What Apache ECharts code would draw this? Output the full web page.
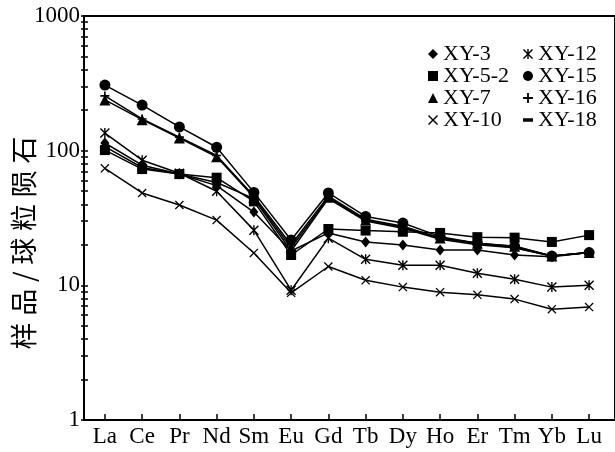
<!DOCTYPE html>
<html>
<head>
<meta charset="utf-8">
<script src="https://cdn.jsdelivr.net/npm/echarts@6/dist/echarts.min.js"></script>
<style>
  html, body { margin: 0; padding: 0; background: #fff; }
  #chart { width: 615px; height: 452px; }
</style>
</head>
<body>
<div id="chart"></div>
<script>
// 稀土元素
var elements = ['La', 'Ce', 'Pr', 'Nd', 'Sm', 'Eu', 'Gd', 'Tb', 'Dy', 'Ho', 'Er', 'Tm', 'Yb', 'Lu'];

// 样品/球粒陨石 标准化值
var xy3  = [114, 78, 67, 55, 35, 18, 24.5, 21, 19.9, 18.3, 18.3, 16.8, 16.3, 17.5];
var xy52 = [101, 73, 67, 63, 42, 16.8, 26.2, 25.5, 25, 24.5, 22.8, 22.6, 21, 23.6];
var xy7  = [238, 170, 124, 90, 45, 19, 45, 30.5, 27, 22.5, 20.5, 19.5, 16.5, 17.5];
var xy10 = [74, 48.5, 39.5, 30.5, 17.4, 8.8, 13.8, 10.9, 9.7, 8.9, 8.5, 7.9, 6.65, 6.9];
var xy12 = [135, 85, 68, 50, 25.7, 9.2, 22.4, 15.6, 14.1, 14.1, 12.3, 11.1, 9.7, 10.0];
var xy15 = [307, 218, 150, 106, 49, 21.7, 48.5, 32.5, 29, 23, 20.5, 19.5, 16.5, 17.5];
var xy16 = [255, 172, 126, 92, 46, 20, 46, 31, 27.5, 22.5, 20.5, 19, 16.5, 17.5];
var xy18 = [107, 75, 67, 58, 44, 18, 44, 30, 26.5, 22, 20, 19, 16.5, 17.5];

var sampleNames = ['XY-3', 'XY-5-2', 'XY-7', 'XY-10', 'XY-12', 'XY-15', 'XY-16', 'XY-18'];
var sampleValues = [xy3, xy52, xy7, xy10, xy12, xy15, xy16, xy18];

// y轴刻度 (主刻度 + 次刻度)
var yTicks = [1, 2, 3, 4, 5, 6, 7, 8, 9, 10, 20, 30, 40, 50, 60, 70, 80, 90,
  100, 200, 300, 400, 500, 600, 700, 800, 900, 1000];

// 符号
var pathX = 'path://M0,1 L1,0 L10,9 L9,10 Z M9,0 L10,1 L1,10 L0,9 Z';
var pathStar = 'path://M0,1 L1,0 L10,9 L9,10 Z M9,0 L10,1 L1,10 L0,9 Z M4.3,0 L5.7,0 L5.7,10 L4.3,10 Z';
var pathPlus = 'path://M4.1,0 L5.9,0 L5.9,10 L4.1,10 Z M0,4.1 L10,4.1 L10,5.9 L0,5.9 Z';
var pathMinus = 'path://M0,0 L10,0 L10,3.5 L0,3.5 Z';
var symbols = ['diamond', 'rect', 'triangle', pathX, pathStar, 'circle', pathPlus, pathMinus];
var symbolSizes = [[9, 11], 10, 11, 9, 10, 11, 9, [9, 3]];

var myChart = echarts.init(document.getElementById('chart'));

var serif = 'Liberation Serif';
var series = sampleNames.map(function (name, k) {
  return {
    name: name,
    type: 'line',
    symbol: symbols[k],
    symbolSize: symbolSizes[k],
    showAllSymbol: true,
    lineStyle: { color: '#000', width: 1.5 },
    itemStyle: { color: '#000' },
    emphasis: { disabled: true },
    data: elements.map(function (e, i) { return [i, sampleValues[k][i]]; })
  };
});

// 绘图区尺寸
var gridLeft = 84, gridRight = -3, gridTop = 16, gridBottom = 32;
var gridW = 615 - gridLeft - gridRight;
var gridH = 452 - gridTop - gridBottom;
var xMin = -0.5606, xMax = 13.695;

var legendText = { fontFamily: serif, fontSize: 22, color: '#000', lineHeight: 20 };
var tickIdx = elements.map(function (e, i) { return i; });
var tickStyle = { color: '#000', width: 1.5 };
var option = {
  animation: false,
  grid: { left: gridLeft, right: gridRight, top: gridTop, bottom: gridBottom,
    show: true, borderColor: '#000', borderWidth: 2 },
  legend: [
    {
      data: sampleNames.slice(0, 4).map(function (n, k) { return { name: n, icon: symbols[k] }; }),
      orient: 'vertical', left: 428, top: 43, padding: 0, itemGap: 0,
      itemWidth: 10, itemHeight: 10, selectedMode: false, textStyle: legendText
    },
    {
      data: sampleNames.slice(4).map(function (n, k) { return { name: n, icon: symbols[k + 4] }; }),
      orient: 'vertical', left: 523, top: 43, padding: 0, itemGap: 0,
      itemWidth: 10, itemHeight: 10, selectedMode: false, textStyle: legendText
    }
  ],
  xAxis: [
    {
      type: 'value', min: xMin, max: xMax, position: 'bottom',
      splitLine: { show: false },
      axisLine: { show: true, onZero: false, lineStyle: { color: '#000', width: 2 } },
      axisTick: { show: false },
      axisLabel: { color: '#000', fontFamily: serif, fontSize: 23, margin: 5,
        customValues: tickIdx,
        formatter: function (v) { return elements[Math.round(v)]; } }
    },
    {
      // 向内的x刻度
      type: 'value', min: xMin, max: xMax, position: 'top', offset: -gridH,
      splitLine: { show: false },
      axisLine: { show: false, onZero: false },
      axisTick: { show: true, inside: false, length: 6, lineStyle: tickStyle, customValues: tickIdx },
      axisLabel: { show: false }
    }
  ],
  yAxis: [
    {
      type: 'log', min: 1, max: 1000, logBase: 10, position: 'left',
      splitLine: { show: false },
      axisLine: { show: true, onZero: false, lineStyle: { color: '#000', width: 2 } },
      axisTick: { show: false },
      axisLabel: { color: '#000', fontFamily: serif, fontSize: 23, margin: 4,
        formatter: function (v) { return String(Math.round(v)); } }
    },
    {
      // 向内的y刻度 (log10 位置)
      type: 'value', min: 0, max: 3, position: 'right', offset: -gridW,
      splitLine: { show: false },
      axisLine: { show: false, onZero: false },
      axisLabel: { show: false },
      axisTick: { show: true, inside: false, length: 7, lineStyle: tickStyle,
        customValues: yTicks.map(function (v) { return Math.log10(v); }) }
    }
  ],
  graphic: [
    {
      type: 'text',
      x: 24, y: 243,
      rotation: Math.PI / 2,
      style: {
        text: '样\u2005品\u2005/\u2005球\u2005粒\u2005陨\u2005石',
        font: '27px "Noto Sans CJK SC"',
        fill: '#000',
        textAlign: 'center',
        textVerticalAlign: 'middle'
      }
    }
  ],
  series: series
};
myChart.setOption(option);
</script>
</body>
</html>
